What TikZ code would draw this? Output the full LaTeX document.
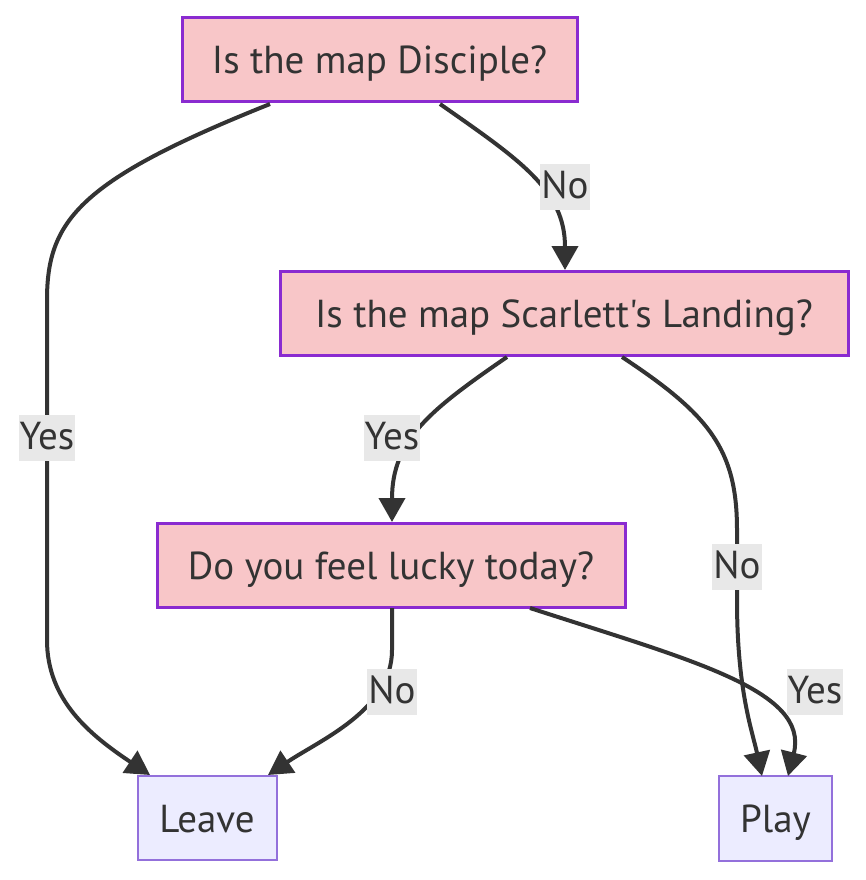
\documentclass[tikz,border=0pt]{standalone}
\usepackage{fontspec}
\defaultfontfeatures[\rmfamily,\sffamily]{}
\setmainfont{PT Sans}
\usetikzlibrary{arrows.meta}
\definecolor{qfill}{HTML}{F8C6C8}
\definecolor{qdraw}{HTML}{8A2BD0}
\definecolor{efill}{HTML}{ECECFF}
\definecolor{edraw}{HTML}{9370DB}
\definecolor{ink}{HTML}{333333}
\definecolor{lbl}{HTML}{E8E8E8}
\tikzset{
  qbox/.style={draw=qdraw, fill=qfill, line width=3pt, inner sep=0pt, text=ink, text height=34pt, text depth=6pt, font=\fontsize{39}{46}\selectfont},
  ebox/.style={draw=edraw, fill=efill, line width=2pt, inner sep=0pt, text=ink, text height=34pt, text depth=6pt, font=\fontsize{39}{46}\selectfont},
  conn/.style={draw=ink, line width=4pt, -{Triangle[length=24pt,width=26pt]}},
  elabel/.style={fill=lbl, text=ink, inner xsep=1pt, inner ysep=0pt, text height=34pt, text depth=12pt, font=\fontsize{39}{46}\selectfont}
}
\begin{document}
\begin{tikzpicture}[x=1pt,y=-1pt]
\useasboundingbox (0,0) rectangle (865,880);
\node[qbox, minimum width=395pt, minimum height=84pt] (n1) at (379.5,60) {Is the map Disciple?};
\node[qbox, minimum width=568pt, minimum height=84pt] (n2) at (564,313) {Is the map Scarlett's Landing?};
\node[qbox, minimum width=468pt, minimum height=84pt] (n3) at (391,565) {Do you feel lucky today?};
\node[ebox, minimum width=139pt, minimum height=84pt] (leave) at (207,818) {Leave};
\node[ebox, minimum width=113pt, minimum height=85pt] (play) at (775.5,818.5) {Play};

\coordinate (a1) at (270,104);
\coordinate (a2) at (440,104);
\coordinate (b1) at (507,357);
\coordinate (b2) at (622,357);
\coordinate (c1) at (392,608);
\coordinate (c2) at (530,608);
\coordinate (lt1) at (150,775);
\coordinate (lt2) at (268,775);
\coordinate (pt1) at (762,776);
\coordinate (pt2) at (788,776);
\coordinate (n2t) at (565,270);
\coordinate (n3t) at (392,522);

\draw[conn] (a1) .. controls (80,180) and (47,220) .. (47,300) -- (47,640) .. controls (47,700) and (90,735) .. (lt1);
\draw[conn] (a2) .. controls (520,160) and (565,190) .. (n2t);
\draw[conn] (b1) .. controls (430,410) and (392,440) .. (n3t);
\draw[conn] (b2) .. controls (710,415) and (737,450) .. (737,530) -- (737,600) .. controls (737,690) and (752,730) .. (pt1);
\draw[conn] (c1) -- (392,650) .. controls (392,710) and (320,740) .. (lt2);
\draw[conn] (c2) .. controls (690,660) and (810,690) .. (pt2);

\node[elabel] (l1) at (47,438) {Yes};
\node[elabel] (l2) at (565,187) {No};
\node[elabel] (l3) at (392,438) {Yes};
\node[elabel] (l4) at (737,567) {No};
\node[elabel] (l5) at (392,692) {No};
\node[elabel] (l6) at (815,692) {Yes};
\end{tikzpicture}
\end{document}
